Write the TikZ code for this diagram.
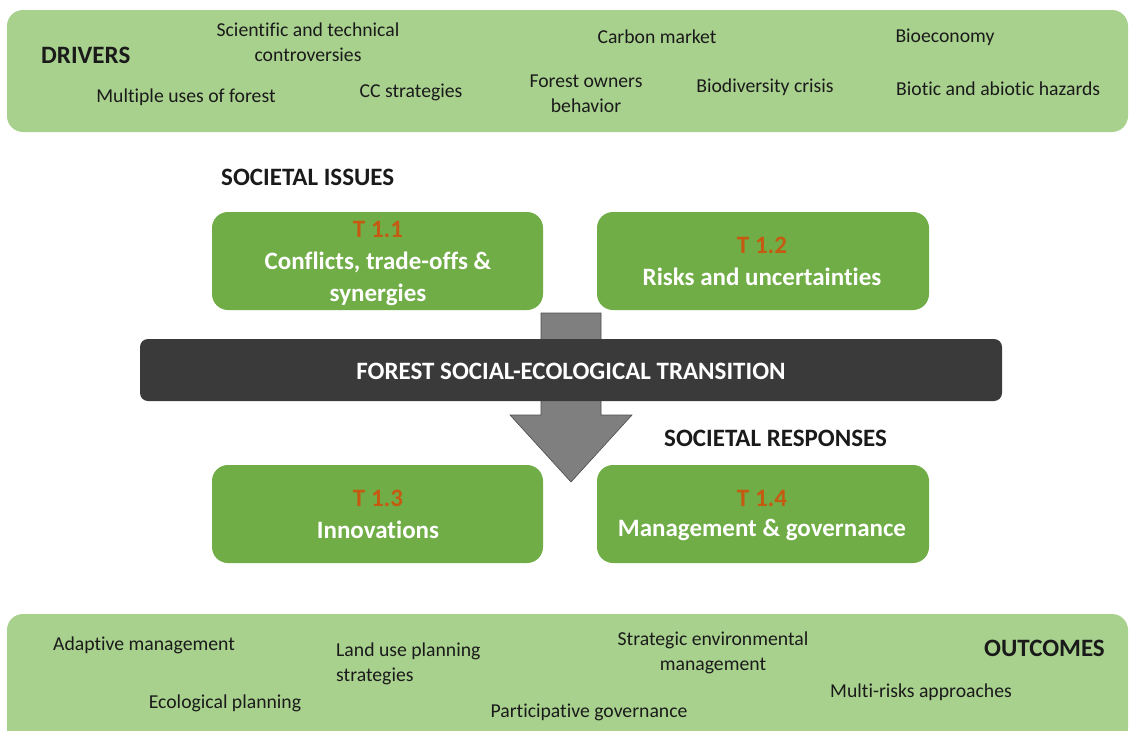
\documentclass[tikz,border=0pt]{standalone}
\usepackage{fontspec}
\setmainfont{Carlito}[Ligatures=NoCommon]
\definecolor{bandgreen}{HTML}{A9D18E}
\definecolor{boxgreen}{HTML}{70AD47}
\definecolor{torange}{HTML}{C55A11}
\definecolor{bardark}{HTML}{3A3A3A}
\definecolor{arrowgray}{HTML}{7F7F7F}
\definecolor{txt}{HTML}{1A1A1A}
\tikzset{
  band/.style={fill=bandgreen, draw=none, rounded corners=16pt},
  tbox/.style={fill=boxgreen, draw=none, rounded corners=16pt},
  small/.style={font=\fontsize{19.7}{25.5}\selectfont, text=txt, align=center, inner sep=0pt},
  head/.style={font=\fontsize{25}{28}\selectfont\bfseries, text=txt, inner sep=0pt},
  tnum/.style={font=\fontsize{25}{28}\selectfont\bfseries, text=torange, inner sep=0pt},
  ttitle/.style={font=\fontsize{25}{32}\selectfont\bfseries, text=white, align=center, inner sep=0pt},
}
\begin{document}
\begin{tikzpicture}[x=1pt,y=-1pt]
\useasboundingbox (0,0) rectangle (1133,731);
% bands
\path[band] (7,10) rectangle (1128,132);
\path[band] (7,614) rectangle (1128,745);
\node[head, anchor=west] (drivers) at (41,55) {DRIVERS};
\node[small] (sci) at (308,42) {Scientific and technical\\controversies};
\node[small] (multi) at (186,97) {Multiple uses of forest};
\node[small] (cc) at (411,92) {CC strategies};
\node[small] (carbon) at (657,37) {Carbon market};
\node[small] (owners) at (586,94) {Forest owners\\behavior};
\node[small] (biodiv) at (765,87) {Biodiversity crisis};
\node[small] (bioeco) at (945,37) {Bioeconomy};
\node[small, anchor=west] (hazards) at (896,89) {Biotic and abiotic hazards};
% outcomes
\node[small] (adapt) at (144,645) {Adaptive management};
\node[small, align=left, anchor=west] (land) at (336,664) {Land use planning\\strategies};
\node[small] (strat) at (713,653) {Strategic environmental\\management};
\node[head, anchor=east] (outcomes) at (1105,648) {OUTCOMES};
\node[small] (eco) at (225,703) {Ecological planning};
\node[small] (partic) at (589,712) {Participative governance};
\node[small] (mrisk) at (921,692) {Multi-risks approaches};
% arrow (behind bar)
\draw[fill=arrowgray, draw=black!70, line width=0.6pt] (541,313) -- (601,313) -- (601,415) -- (632,415) -- (571,482) -- (510,415) -- (541,415) -- cycle;
% boxes
\path[tbox] (212,212) rectangle (543,310);
\path[tbox] (597,212) rectangle (929,310);
\path[tbox] (212,465) rectangle (543,563);
\path[tbox] (597,465) rectangle (929,563);
\node[tnum] (t11) at (378,229) {T 1.1};
\node[ttitle] (t11t) at (378,279) {Conflicts, trade-offs \&\\synergies};
\node[tnum] (t12) at (762,245) {T 1.2};
\node[ttitle] (t12t) at (762,277) {Risks and uncertainties};
\node[tnum] (t13) at (378,498) {T 1.3};
\node[ttitle] (t13t) at (378,530) {Innovations};
\node[tnum] (t14) at (762,498) {T 1.4};
\node[ttitle] (t14t) at (762,530) {Management \& governance};
% labels
\node[head, anchor=west] (issues) at (221,177) {SOCIETAL ISSUES};
\node[head, anchor=west] (resp) at (664,438) {SOCIETAL RESPONSES};
% bar
\path[fill=bardark, rounded corners=8pt] (140,339) rectangle (1002,401);
\node[font=\fontsize{25}{28}\selectfont\bfseries, text=white, inner sep=0pt] (trans) at (571,371) {FOREST SOCIAL-ECOLOGICAL TRANSITION};
\end{tikzpicture}
\end{document}
